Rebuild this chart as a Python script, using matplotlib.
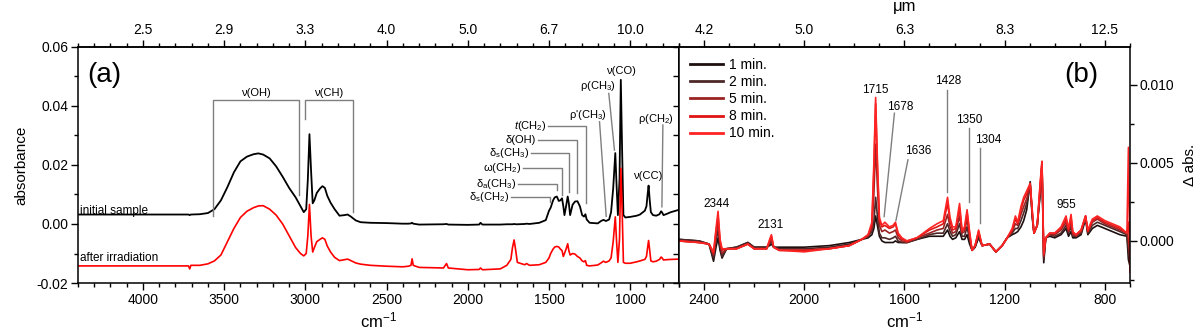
import matplotlib

matplotlib.use("Agg")
import matplotlib.pyplot as plt
from matplotlib.ticker import MultipleLocator, NullFormatter, FormatStrFormatter

plt.rcParams["font.family"] = ["Liberation Sans", "DejaVu Sans"]
plt.rcParams["mathtext.fontset"] = "custom"
plt.rcParams["mathtext.rm"] = "Liberation Sans"
plt.rcParams["mathtext.it"] = "Liberation Sans:italic"
plt.rcParams["mathtext.default"] = "regular"
plt.rcParams["axes.linewidth"] = 1.1

# ---- panel (a): absorbance spectra ----
wn_a = [4400, 4000, 3720, 3712, 3705, 3650, 3600, 3560, 3520, 3480, 3440, 3400,
        3360, 3320, 3290, 3260, 3220, 3180, 3140, 3100, 3060, 3030, 3010, 2995,
        2985, 2975, 2965, 2955, 2945, 2930, 2910, 2895, 2880, 2865, 2845, 2820,
        2790, 2760, 2740, 2720, 2690, 2660, 2600, 2500, 2400, 2365, 2350, 2343,
        2336, 2300, 2150, 2131, 2120, 2000, 1930, 1922, 1910, 1800, 1760, 1735,
        1725, 1715, 1705, 1695, 1650, 1638, 1620, 1560, 1520, 1500, 1490, 1475,
        1465, 1452, 1440, 1430, 1420, 1412, 1405, 1395, 1385, 1378, 1370, 1355,
        1340, 1325, 1310, 1296, 1285, 1276, 1268, 1250, 1200, 1180, 1165, 1150,
        1130, 1118, 1105, 1092, 1084, 1076, 1066, 1058, 1050, 1042, 1030, 1000,
        960, 940, 910, 900, 893, 887, 880, 873, 860, 840, 820, 810, 805, 795,
        780, 750, 700]
initial = [0.0032, 0.0032, 0.0032, 0.0030, 0.0032, 0.0033, 0.0037, 0.0050, 0.0080,
           0.0125, 0.0175, 0.0212, 0.0228, 0.0236, 0.0239, 0.0235, 0.0222, 0.0195,
           0.0160, 0.0122, 0.0090, 0.0060, 0.0040, 0.0050, 0.0150, 0.0304, 0.0180,
           0.0070, 0.0080, 0.0105, 0.0120, 0.0128, 0.0122, 0.0095, 0.0072, 0.0050,
           0.0028, 0.0030, 0.0032, 0.0025, 0.0012, 0.0006, 0.0004, 0.0003, 0.0001,
           0.0001, 0.0002, 0.0004, 0.0001, -0.0002, -0.0001, 0.0000, -0.0002, -0.0003,
           -0.0002, 0.0004, -0.0002, -0.0002, -0.0001, -0.0001, -0.0001, 0.0000,
           -0.0001, -0.0001, 0.0000, 0.0001, 0.0000, 0.0004, 0.0013, 0.0045, 0.0055,
           0.0080, 0.0090, 0.0093, 0.0078, 0.0080, 0.0087, 0.0060, 0.0030, 0.0060,
           0.0093, 0.0070, 0.0030, 0.0065, 0.0076, 0.0077, 0.0060, 0.0030, 0.0025,
           0.0033, 0.0015, 0.0004, 0.0002, 0.0010, 0.0014, 0.0010, 0.0015, 0.0040,
           0.0120, 0.0240, 0.0130, 0.0030, 0.0150, 0.0488, 0.0250, 0.0030, 0.0022,
           0.0024, 0.0028, 0.0032, 0.0045, 0.0060, 0.0100, 0.0130, 0.0080, 0.0040,
           0.0030, 0.0028, 0.0033, 0.0043, 0.0040, 0.0030, 0.0033, 0.0040, 0.0048]
irradiated = [-0.0142, -0.0142, -0.0142, -0.0152, -0.0140, -0.0140, -0.0135, -0.0125,
              -0.0105, -0.0060, -0.0015, 0.0022, 0.0043, 0.0055, 0.0061, 0.0062,
              0.0050, 0.0030, 0.0000, -0.0040, -0.0080, -0.0100, -0.0108, -0.0100,
              -0.0040, 0.0066, -0.0040, -0.0095, -0.0080, -0.0060, -0.0052, -0.0047,
              -0.0052, -0.0075, -0.0095, -0.0113, -0.0124, -0.0121, -0.0119, -0.0124,
              -0.0132, -0.0136, -0.0140, -0.0143, -0.0145, -0.0143, -0.0140, -0.0118,
              -0.0140, -0.0147, -0.0149, -0.0134, -0.0149, -0.0155, -0.0154, -0.0149,
              -0.0155, -0.0152, -0.0140, -0.0120, -0.0080, -0.0054, -0.0090, -0.0130,
              -0.0138, -0.0134, -0.0140, -0.0138, -0.0130, -0.0115, -0.0100, -0.0085,
              -0.0078, -0.0076, -0.0078, -0.0085, -0.0090, -0.0110, -0.0100, -0.0085,
              -0.0067, -0.0090, -0.0105, -0.0100, -0.0102, -0.0110, -0.0115, -0.0125,
              -0.0128, -0.0124, -0.0140, -0.0142, -0.0139, -0.0132, -0.0126, -0.0130,
              -0.0125, -0.0115, -0.0060, 0.0024, -0.0060, -0.0130, -0.0050, 0.0189,
              0.0050, -0.0130, -0.0133, -0.0133, -0.0128, -0.0125, -0.0120, -0.0110,
              -0.0080, -0.0056, -0.0090, -0.0125, -0.0128, -0.0126, -0.0120, -0.0112,
              -0.0114, -0.0122, -0.0121, -0.0120, -0.0119]

ticks_a = [4000, 3500, 3000, 2500, 2000, 1500, 1000]
top_labels_a = ["2.5", "2.9", "3.3", "4.0", "5.0", "6.7", "10.0"]

# ---- panel (b): difference spectra ----
times = ["1 min.", "2 min.", "5 min.", "8 min.", "10 min."]
colors_b = ["#1e0f0f", "#4e2828", "#9a2424", "#e01414", "#ff2424"]
wn_b = [2500, 2420, 2380, 2362, 2352, 2344, 2336, 2328, 2310, 2270, 2225, 2200,
        2150, 2138, 2131, 2122, 2100, 2000, 1900, 1820, 1770, 1745, 1730, 1722,
        1715, 1708, 1700, 1690, 1678, 1660, 1645, 1636, 1625, 1610, 1590, 1550,
        1500, 1470, 1445, 1428, 1418, 1408, 1395, 1380, 1370, 1360, 1350, 1340,
        1330, 1318, 1304, 1290, 1260, 1235, 1210, 1190, 1170, 1157, 1148, 1135,
        1124, 1112, 1098, 1090, 1083, 1070, 1058, 1051, 1044, 1036, 1020, 1000,
        975, 955, 945, 935, 928, 915, 895, 877, 868, 850, 830, 800, 770, 740,
        712, 706, 700]
d1 = [0.0001, 0.0000, -0.0002, -0.0013, -0.0004, 0.0002, -0.0006, -0.0011, -0.0005,
      -0.0004, -0.0001, -0.0004, -0.0004, -0.0003, -0.0002, -0.0004, -0.0004,
      -0.0004, -0.0003, -0.0001, 0.0001, 0.0002, 0.0004, 0.0008, 0.0016, 0.0010,
      0.0003, 0.0000, -0.0001, -0.0001, -0.0001, 0.0000, -0.0001, -0.0001, -0.0001,
      0.0001, 0.0003, 0.0003, 0.0003, 0.0007, 0.0003, 0.0001, 0.0002, 0.0006,
      0.0001, 0.0001, 0.0004, -0.0002, -0.0006, -0.0004, 0.0002, -0.0003, -0.0002,
      -0.0007, -0.0003, 0.0002, 0.0004, 0.0005, 0.0006, 0.0009, 0.0013, 0.0020,
      0.0038, 0.0015, 0.0005, 0.0010, 0.0030, 0.0048, -0.0014, 0.0002, 0.0003,
      0.0002, 0.0004, 0.0008, 0.0003, 0.0006, 0.0002, 0.0002, 0.0004, 0.0014,
      0.0004, 0.0008, 0.0010, 0.0008, 0.0006, 0.0004, 0.0003, -0.0012, -0.0016]
d2 = [0.0001, 0.0000, -0.0002, -0.0011, 0.0000, 0.0007, -0.0004, -0.0010, -0.0005,
      -0.0004, -0.0001, -0.0004, -0.0004, -0.0002, 0.0000, -0.0004, -0.0005,
      -0.0005, -0.0004, -0.0002, 0.0001, 0.0003, 0.0006, 0.0012, 0.0028, 0.0016,
      0.0005, 0.0002, 0.0002, 0.0001, 0.0002, 0.0003, 0.0000, -0.0001, -0.0001,
      0.0001, 0.0004, 0.0005, 0.0005, 0.0011, 0.0006, 0.0003, 0.0004, 0.0011,
      0.0003, 0.0003, 0.0009, 0.0001, -0.0006, -0.0004, 0.0003, -0.0003, -0.0002,
      -0.0007, -0.0003, 0.0002, 0.0005, 0.0008, 0.0008, 0.0013, 0.0018, 0.0024,
      0.0036, 0.0017, 0.0005, 0.0010, 0.0032, 0.0049, -0.0012, 0.0002, 0.0004,
      0.0003, 0.0005, 0.0010, 0.0005, 0.0009, 0.0003, 0.0003, 0.0005, 0.0015,
      0.0005, 0.0010, 0.0012, 0.0010, 0.0008, 0.0006, 0.0004, -0.0006, -0.0012]
d5 = [0.0000, -0.0001, -0.0002, -0.0009, 0.0004, 0.0012, -0.0002, -0.0008, -0.0005,
      -0.0005, -0.0002, -0.0005, -0.0005, -0.0001, 0.0002, -0.0004, -0.0006,
      -0.0006, -0.0005, -0.0003, 0.0001, 0.0003, 0.0008, 0.0030, 0.0062, 0.0035,
      0.0010, 0.0006, 0.0007, 0.0005, 0.0006, 0.0007, 0.0002, 0.0000, -0.0001,
      0.0002, 0.0005, 0.0007, 0.0008, 0.0017, 0.0009, 0.0005, 0.0006, 0.0016,
      0.0005, 0.0006, 0.0014, 0.0003, -0.0006, -0.0003, 0.0005, -0.0003, -0.0002,
      -0.0007, -0.0003, 0.0002, 0.0006, 0.0011, 0.0010, 0.0017, 0.0022, 0.0027,
      0.0035, 0.0018, 0.0005, 0.0010, 0.0034, 0.0050, -0.0010, 0.0002, 0.0004,
      0.0004, 0.0007, 0.0012, 0.0006, 0.0012, 0.0004, 0.0003, 0.0006, 0.0016,
      0.0006, 0.0012, 0.0014, 0.0011, 0.0009, 0.0007, 0.0005, 0.0000, -0.0008]
d8 = [0.0000, -0.0001, -0.0002, -0.0008, 0.0006, 0.0016, 0.0000, -0.0006, -0.0005,
      -0.0005, -0.0002, -0.0005, -0.0005, 0.0000, 0.0003, -0.0004, -0.0006,
      -0.0006, -0.0005, -0.0003, 0.0001, 0.0004, 0.0010, 0.0045, 0.0088, 0.0048,
      0.0013, 0.0009, 0.0010, 0.0008, 0.0009, 0.0011, 0.0004, 0.0001, 0.0000,
      0.0002, 0.0007, 0.0009, 0.0011, 0.0024, 0.0013, 0.0007, 0.0008, 0.0021,
      0.0006, 0.0008, 0.0018, 0.0005, -0.0006, -0.0003, 0.0006, -0.0003, -0.0002,
      -0.0007, -0.0003, 0.0002, 0.0007, 0.0014, 0.0011, 0.0020, 0.0026, 0.0030,
      0.0036, 0.0019, 0.0005, 0.0010, 0.0036, 0.0051, -0.0009, 0.0002, 0.0005,
      0.0005, 0.0008, 0.0014, 0.0007, 0.0015, 0.0005, 0.0004, 0.0007, 0.0016,
      0.0006, 0.0013, 0.0015, 0.0012, 0.0010, 0.0008, 0.0005, 0.0012, -0.0006]
d10 = [0.0000, -0.0001, -0.0002, -0.0007, 0.0008, 0.0019, 0.0001, -0.0005, -0.0005,
       -0.0005, -0.0002, -0.0005, -0.0005, 0.0001, 0.0004, -0.0004, -0.0006,
       -0.0007, -0.0005, -0.0003, 0.0001, 0.0004, 0.0012, 0.0050, 0.0092, 0.0052,
       0.0015, 0.0010, 0.0012, 0.0009, 0.0010, 0.0012, 0.0005, 0.0002, 0.0000,
       0.0002, 0.0008, 0.0011, 0.0013, 0.0028, 0.0015, 0.0009, 0.0009, 0.0024,
       0.0007, 0.0009, 0.0020, 0.0006, -0.0006, -0.0003, 0.0007, -0.0003, -0.0002,
       -0.0007, -0.0003, 0.0002, 0.0008, 0.0016, 0.0012, 0.0022, 0.0028, 0.0032,
       0.0037, 0.0020, 0.0005, 0.0010, 0.0038, 0.0051, -0.0008, 0.0002, 0.0005,
       0.0005, 0.0009, 0.0016, 0.0008, 0.0017, 0.0006, 0.0004, 0.0007, 0.0016,
       0.0007, 0.0014, 0.0016, 0.0013, 0.0011, 0.0009, 0.0005, 0.0060, -0.0020]
series_b = [d1, d2, d5, d8, d10]

ticks_b = [2400, 2000, 1600, 1200, 800]
top_labels_b = ["4.2", "5.0", "6.3", "8.3", "12.5"]

GREY = "#7f7f7f"

fig = plt.figure(figsize=(12, 3.33), dpi=100)
ax1 = fig.add_axes([0.065, 0.150, 0.5008, 0.7096])
ax2 = fig.add_axes([0.5658, 0.150, 0.3758, 0.7096])

# ---------------- panel (a) ----------------
ax1.plot(wn_a, initial, color="black", lw=1.3)
ax1.plot(wn_a, irradiated, color="#ff0000", lw=1.2)
ax1.set_xlim(4400, 700)
ax1.set_ylim(-0.02, 0.06)
ax1.set_xticks(ticks_a)
ax1.xaxis.set_minor_locator(MultipleLocator(100))
ax1.set_yticks([-0.02, 0.0, 0.02, 0.04, 0.06])
ax1.yaxis.set_minor_locator(MultipleLocator(0.01))
ax1.yaxis.set_major_formatter(FormatStrFormatter("%.2f"))
ax1.tick_params(which="major", length=5, width=1, labelsize=10, pad=2)
ax1.tick_params(which="minor", length=3, width=1)
ax1.set_xlabel("cm$^{-1}$", fontsize=12, labelpad=3)
ax1.set_ylabel("absorbance", fontsize=11, labelpad=6)

top1 = ax1.secondary_xaxis("top")
top1.set_xticks(ticks_a, labels=top_labels_a)
top1.xaxis.set_minor_locator(MultipleLocator(100))
top1.tick_params(which="major", length=5, width=1, labelsize=10, pad=2)
top1.tick_params(which="minor", length=3, width=1)

right1 = ax1.secondary_yaxis("right")
right1.yaxis.set_major_locator(MultipleLocator(0.01))
right1.yaxis.set_major_formatter(NullFormatter())
right1.tick_params(direction="in", length=4, width=1)

ax1.text(0.015, 0.88, "(a)", transform=ax1.transAxes, fontsize=20, va="center")
ax1.text(4385, 0.0045, "initial sample", fontsize=8.5, va="center")
ax1.text(4385, -0.0115, "after irradiation", fontsize=8.5, va="center")

# brackets for the stretching bands
ax1.plot([3569, 3569, 3041, 3041], [0.0027, 0.0419, 0.0419, 0.0098], color=GREY, lw=1)
ax1.plot([3004, 3004, 2707, 2707], [0.0354, 0.0419, 0.0419, 0.0041], color=GREY, lw=1)
ax1.text(3305, 0.0443, "ν(OH)", fontsize=8, ha="center", va="center")
ax1.text(2855, 0.0443, "ν(CH)", fontsize=8, ha="center", va="center")

# elbow leaders: label, start x, level, peak x, end y
elbows = [
    ("$\\mathit{t}$(CH$_2$)", 1505, 0.0331, 1271, 0.0072),
    ("δ(OH)", 1568, 0.0284, 1329, 0.0104),
    ("δ$_s$(CH$_3$)", 1613, 0.0239, 1378, 0.0108),
    ("ω(CH$_2$)", 1658, 0.0188, 1418, 0.0098),
    ("δ$_a$(CH$_3$)", 1690, 0.0137, 1452, 0.0114),
    ("δ$_s$(CH$_2$)", 1735, 0.0092, 1492, 0.0075),
]
for label, x0, y0, xp, yp in elbows:
    ax1.plot([x0, xp, xp], [y0, y0, yp], color=GREY, lw=1)
    ax1.text(x0 + 12, y0, label, fontsize=8, ha="right", va="center")

slanted = [
    ("ρ'(CH$_3$)", 1261, 0.0369, 1189, 0.0346, 1148, 0.0026),
    ("ρ(CH$_3$)", 1199, 0.0467, 1132, 0.0442, 1097, 0.0250),
    ("ρ(CH$_2$)", 840, 0.0357, 799, 0.0335, 805, 0.0058),
]
for label, tx, ty, x0, y0, x1, y1 in slanted:
    ax1.plot([x0, x1], [y0, y1], color=GREY, lw=1)
    ax1.text(tx, ty, label, fontsize=8, ha="center", va="center")
ax1.text(1058, 0.0519, "ν(CO)", fontsize=8, ha="center", va="center")
ax1.text(892, 0.0162, "ν(CC)", fontsize=8, ha="center", va="center")

# ---------------- panel (b) ----------------
for vals, lab, col in zip(series_b, times, colors_b):
    ax2.plot(wn_b, vals, color=col, lw=1.2, label=lab)
ax2.set_xlim(2500, 700)
ax2.set_ylim(-0.0027, 0.01245)
ax2.set_xticks(ticks_b)
ax2.xaxis.set_minor_locator(MultipleLocator(100))
ax2.yaxis.tick_right()
ax2.yaxis.set_label_position("right")
ax2.set_yticks([0.0, 0.005, 0.010])
ax2.yaxis.set_minor_locator(MultipleLocator(0.0025))
ax2.yaxis.set_major_formatter(FormatStrFormatter("%.3f"))
ax2.tick_params(which="major", length=5, width=1, labelsize=10, pad=2)
ax2.tick_params(which="minor", length=3, width=1)
ax2.set_xlabel("cm$^{-1}$", fontsize=12, labelpad=3)
ax2.set_ylabel("Δ abs.", fontsize=11, labelpad=6)

top2 = ax2.secondary_xaxis("top")
top2.set_xticks(ticks_b, labels=top_labels_b)
top2.xaxis.set_minor_locator(MultipleLocator(100))
top2.tick_params(which="major", length=5, width=1, labelsize=10, pad=2)
top2.tick_params(which="minor", length=3, width=1)
ax2.text(0.5, 1.14, "μm", transform=ax2.transAxes, fontsize=12,
         ha="center", va="bottom")

ax2.text(0.93, 0.88, "(b)", transform=ax2.transAxes, fontsize=20, va="center", ha="right")

leg = ax2.legend(loc="upper left", bbox_to_anchor=(0.012, 0.975), frameon=False,
                 fontsize=10, handlelength=2.4, handletextpad=0.4,
                 labelspacing=0.22, borderaxespad=0)
for h in leg.get_lines():
    h.set_linewidth(2)

# peak labels: text, text x, text y, optional leader
peaks_b = [
    ("2344", 2350, 0.00237, None),
    ("2131", 2134, 0.00103, None),
    ("1715", 1717, 0.00968, None),
    ("1678", 1617, 0.00860, (1640, 0.00819, 1681, 0.00156)),
    ("1636", 1544, 0.00579, (1586, 0.00520, 1634, 0.00130)),
    ("1428", 1426, 0.01028, (1429, 0.00968, 1429, 0.00316)),
    ("1350", 1340, 0.00776, (1341, 0.00724, 1341, 0.00252)),
    ("1304", 1264, 0.00647, (1300, 0.00596, 1300, 0.00113)),
    ("955", 954, 0.00230, None),
]
for label, tx, ty, leader in peaks_b:
    ax2.text(tx, ty, label, fontsize=8.5, ha="center", va="center")
    if leader:
        ax2.plot([leader[0], leader[2]], [leader[1], leader[3]], color=GREY, lw=1)

fig.savefig("out.png", dpi=100)
